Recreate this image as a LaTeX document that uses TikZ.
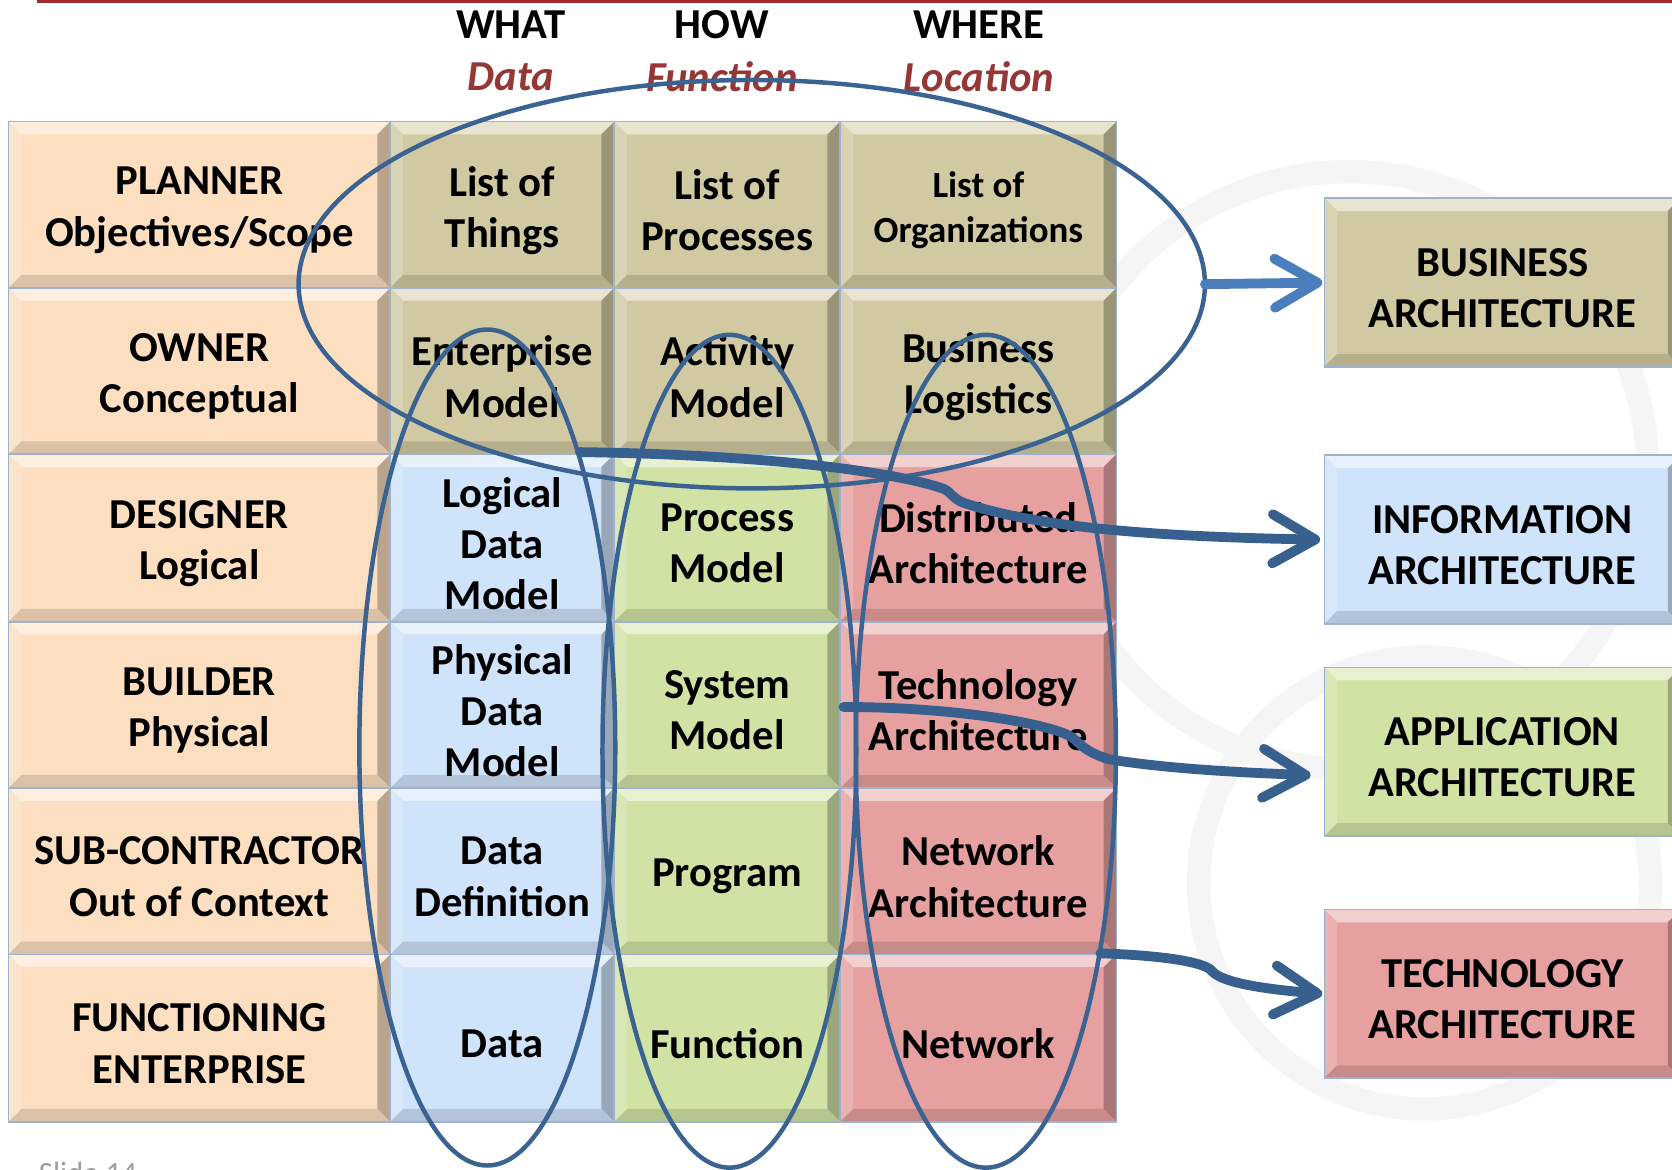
\documentclass[tikz,border=0pt]{standalone}
\usepackage{fontspec}
\setmainfont{Carlito}
\usetikzlibrary{shapes.geometric,arrows.meta,calc}
\definecolor{peach}{HTML}{FCDEC0}
\definecolor{tan}{HTML}{D0C9A1}
\definecolor{lblue}{HTML}{CFE3FA}
\definecolor{lgreen}{HTML}{D1E2A5}
\definecolor{lred}{HTML}{E5A09F}
\definecolor{ellc}{HTML}{3A6391}
\definecolor{arrc}{HTML}{37608F}
\definecolor{barrc}{HTML}{4A7EBD}
\definecolor{hdrred}{HTML}{953735}
\definecolor{rulered}{HTML}{A32A2C}
\definecolor{edgeblue}{HTML}{9DB2CE}
\definecolor{wmgray}{HTML}{F5F5F5}
\tikzset{
 celltext/.style={font=\bfseries\fontsize{20}{24}\selectfont, align=center, inner sep=0pt},
 smalltext/.style={font=\bfseries\fontsize{17.3}{21}\selectfont, align=center, inner sep=0pt},
 hdr/.style={font=\bfseries\fontsize{20}{24}\selectfont, inner sep=0pt},
 hdrsub/.style={font=\bfseries\itshape\fontsize{20}{24}\selectfont, text=hdrred, inner sep=0pt},
 ring/.style={draw=ellc, line width=2.1pt, ellipse, inner sep=0pt, outer sep=0pt},
 cellbox/.style={rectangle, inner sep=0pt, outer sep=0pt},
 bigarrow/.style={draw=arrc, line width=4.6pt, line cap=round, line join=round, -{Straight Barb[length=20pt,width=23pt,round]}},
 wm/.style={draw=wmgray, line width=11pt},
}
\newcommand\bevcell[8]{%
 \fill[#6] (#2,#3) rectangle (#4,#5);
 \fill[#6!50!white] (#2,#3) -- (#4,#3) -- (#4-12,#3+12) -- (#2+12,#3+12) -- cycle;
 \fill[#6!82!white] (#2,#3) -- (#2+12,#3+12) -- (#2+12,#5-12) -- (#2,#5) -- cycle;
 \fill[#6!74!black] (#4,#3) -- (#4,#5) -- (#4-12,#5-12) -- (#4-12,#3+12) -- cycle;
 \fill[#6!87!black] (#2,#5) -- (#4,#5) -- (#4-12,#5-12) -- (#2+12,#5-12) -- cycle;
 \draw[line width=0.8pt, draw=edgeblue] (#2,#3) rectangle (#4,#5);
 \pgfmathsetmacro\cw{(#4-#2)*0.5}%
 \pgfmathsetmacro\ch{(#5-#3)*0.5}%
 \node[cellbox, minimum width=\cw pt, minimum height=\ch pt] (#1) at ({(#2+#4)/2},{(#3+#5)/2}) {};
 \node[#7, yshift=-2.6pt] (#1t) at (#1.center) {#8};
}
\begin{document}
\begin{tikzpicture}[x=0.5pt, y=-0.5pt]
\path[use as bounding box] (0,0) rectangle (1568,1097.2);
\clip (0,0) rectangle (1568,1097.2);
% watermark rings
\draw[wm] (1265,441) circle[radius=280];
\draw[wm] (1336,828) circle[radius=212];
% top rule
\draw[rulered, line width=1.5pt] (35,1) -- (1568,1);
% headers
\node[hdr] (hwhat) at (479,23) {WHAT};
\node[hdr] (hhow) at (677,23) {HOW};
\node[hdr] (hwhere) at (918,23) {WHERE};
\node[hdrsub] (hdata) at (479,72) {Data};
\node[hdrsub] (hfunc) at (677,72) {Function};
\node[hdrsub] (hloc) at (918,72) {Location};
% row 1
\bevcell{c11}{8}{114}{366}{270}{peach}{celltext}{PLANNER\\Objectives/Scope}
\bevcell{c12}{366}{114}{576}{270}{tan}{celltext}{List of\\Things}
\bevcell{c13}{576}{114}{788}{270}{tan}{celltext}{List of\\Processes}
\bevcell{c14}{788}{114}{1047}{270}{tan}{smalltext}{List of\\Organizations}
% row 2
\bevcell{c21}{8}{270}{366}{426}{peach}{celltext}{OWNER\\Conceptual}
\bevcell{c22}{366}{270}{576}{426}{tan}{celltext}{Enterprise\\Model}
\bevcell{c23}{576}{270}{788}{426}{tan}{celltext}{Activity\\Model}
\bevcell{c24}{788}{270}{1047}{426}{tan}{celltext}{Business\\Logistics}
% row 3
\bevcell{c31}{8}{426}{366}{583}{peach}{celltext}{DESIGNER\\Logical}
\bevcell{c32}{366}{426}{576}{583}{lblue}{celltext}{Logical\\Data\\Model}
\bevcell{c33}{576}{426}{788}{583}{lgreen}{celltext}{Process\\Model}
\bevcell{c34}{788}{426}{1047}{583}{lred}{celltext}{Distributed\\Architecture}
% row 4
\bevcell{c41}{8}{583}{366}{739}{peach}{celltext}{BUILDER\\Physical}
\bevcell{c42}{366}{583}{576}{739}{lblue}{celltext}{Physical\\Data\\Model}
\bevcell{c43}{576}{583}{788}{739}{lgreen}{celltext}{System\\Model}
\bevcell{c44}{788}{583}{1047}{739}{lred}{celltext}{Technology\\Architecture}
% row 5
\bevcell{c51}{8}{739}{366}{895}{peach}{celltext}{SUB-CONTRACTOR\\Out of Context}
\bevcell{c52}{366}{739}{576}{895}{lblue}{celltext}{Data\\Definition}
\bevcell{c53}{576}{739}{788}{895}{lgreen}{celltext}{Program}
\bevcell{c54}{788}{739}{1047}{895}{lred}{celltext}{Network\\Architecture}
% row 6
\bevcell{c61}{8}{895}{366}{1052}{peach}{celltext}{FUNCTIONING\\ENTERPRISE}
\bevcell{c62}{366}{895}{576}{1052}{lblue}{celltext}{Data}
\bevcell{c63}{576}{895}{788}{1052}{lgreen}{celltext}{Function}
\bevcell{c64}{788}{895}{1047}{1052}{lred}{celltext}{Network}
% right boxes
\bevcell{barch}{1242}{186}{1576}{344}{tan}{celltext}{BUSINESS\\ARCHITECTURE}
\bevcell{iarch}{1242}{427}{1576}{585}{lblue}{celltext}{INFORMATION\\ARCHITECTURE}
\bevcell{aarch}{1242}{626}{1576}{784}{lgreen}{celltext}{APPLICATION\\ARCHITECTURE}
\bevcell{tarch}{1242}{853}{1576}{1011}{lred}{celltext}{TECHNOLOGY\\ARCHITECTURE}
% ellipses
\node[ring, minimum width=425pt, minimum height=191.5pt] (escope) at (705,266.5) {};
\node[ring, minimum width=120pt, minimum height=392pt] (edata) at (457,701) {};
\node[ring, minimum width=119pt, minimum height=390.5pt] (efunc) at (684,704.5) {};
\node[ring, minimum width=122pt, minimum height=390.5pt] (eloc) at (924.5,704.5) {};
% arrow anchors
\coordinate (iS) at (544,424);
\coordinate (aS) at (791,663);
\coordinate (tS) at (1032,894);
\coordinate (aT) at (1229,727);
% arrows
\draw[bigarrow, draw=barrc] (escope.east) -- ([xshift=-1pt]barch.west);
\draw[bigarrow] (iS) .. controls (700,426) and (830,440) .. (884,458)
  .. controls (892,461) and (893,468) .. (905,472)
  .. controls (960,490) and (1050,503) .. ([xshift=-2pt]iarch.west);
\draw[bigarrow] (aS) .. controls (900,663) and (990,680) .. (1006,692)
  .. controls (1014,699) and (1020,706) .. (1040,712)
  .. controls (1100,722) and (1180,725) .. (aT);
\draw[bigarrow] (tS) .. controls (1090,896) and (1128,902) .. (1136,910)
  .. controls (1142,918) and (1165,926) .. ([xshift=-1pt]tarch.west);
% footer
\node[anchor=north west, font=\fontsize{14.5}{16}\selectfont, text=black!38, inner sep=0pt] (slide) at (36,1089) {Slide 14};
\end{tikzpicture}
\end{document}
